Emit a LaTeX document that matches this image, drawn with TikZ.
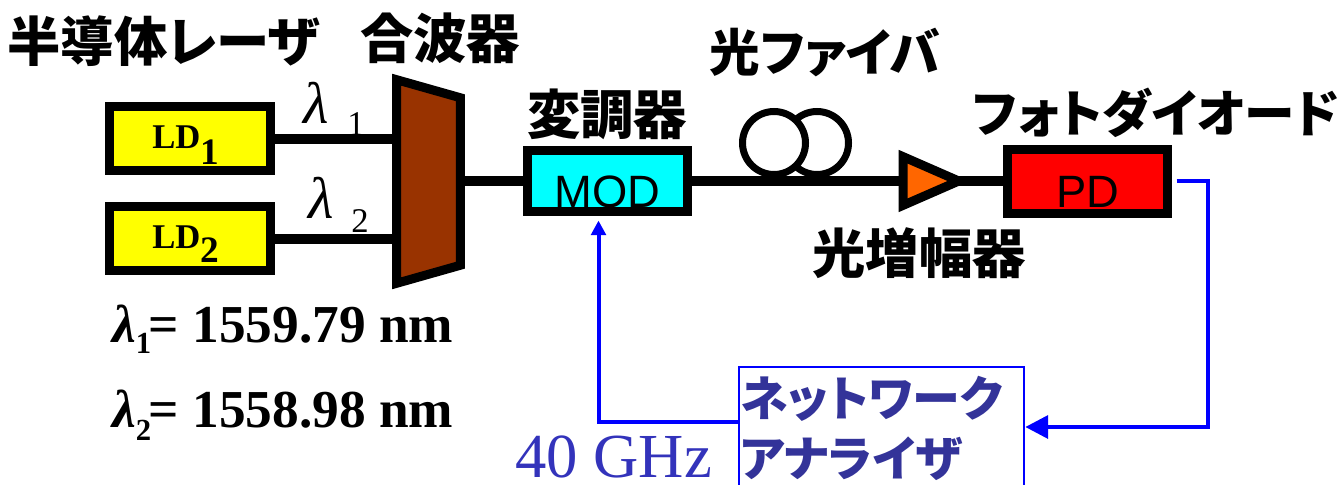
\documentclass[tikz,border=0pt]{standalone}
\usepackage{fontspec}
\setmainfont{Liberation Serif}
\newfontfamily\jp{Noto Sans CJK JP}[RawFeature=+palt]
\newfontfamily\arial{Liberation Sans}
\usetikzlibrary{arrows.meta,calc}
\definecolor{brn}{HTML}{993300}
\definecolor{amporange}{HTML}{FF6600}
\definecolor{natext}{HTML}{333399}
\definecolor{ghzcol}{HTML}{3333BB}
\definecolor{sigblue}{HTML}{0000FF}
\definecolor{modcyan}{HTML}{00FFFF}
\definecolor{ldyellow}{HTML}{FFFF00}
\definecolor{pdred}{HTML}{FF0000}
\begin{document}
\begin{tikzpicture}[x=0.75pt,y=-0.75pt,
  box/.style={draw=black,line width=6.75pt,inner sep=0pt,minimum width=120.75pt,minimum height=48pt},
  fibre/.style={line width=7.5pt},
  coilc/.style={circle,draw=black,line width=5.25pt,inner sep=0pt,minimum size=47.25pt},
  nabox/.style={draw=sigblue,line width=2pt,inner sep=0pt,minimum width=213.75pt,minimum height=130pt},
  sig/.style={draw=sigblue,line width=3pt},
  jlabel/.style={inner sep=0pt,font=\jp\bfseries\fontsize{40}{40}\selectfont},
  jklabel/.style={inner sep=0pt,font=\jp\bfseries\fontsize{38}{38}\selectfont},
  natxt/.style={inner sep=0pt,text=natext,font=\jp\bfseries\fontsize{36}{36}\selectfont},
  boxtxt/.style={inner sep=0pt,anchor=base,font=\arial\fontsize{34}{34}\selectfont},
  ldtxt/.style={inner sep=0pt,anchor=base west,font=\bfseries\fontsize{26}{26}\selectfont},
  lamtxt/.style={inner sep=0pt,anchor=base west,font=\itshape\fontsize{44}{44}\selectfont},
  subtxt/.style={inner sep=0pt,anchor=base west,font=\fontsize{26}{26}\selectfont},
  eqtxt/.style={inner sep=0pt,anchor=base west,font=\bfseries\fontsize{40}{40}\selectfont},
  ghztxt/.style={inner sep=0pt,anchor=base west,text=ghzcol,font=\fontsize{47}{47}\selectfont}
]
\clip (0,0) rectangle (1339,485);

% invisible placeholders
\node[inner sep=0pt,minimum width=47.25pt,minimum height=152.25pt] (comb) at (428.5,181.5) {};
\node[inner sep=0pt,minimum width=41.25pt,minimum height=36pt] (amp) at (931,181) {};

% coil
\node[coilc] (c2) at (817,143) {};
\node[coilc,fill=white] (c1) at (774,143) {};

% boxes
\node[box,fill=ldyellow] (ld1) at (190,138.5) {};
\node[box,fill=ldyellow] (ld2) at (190,238.5) {};
\node[box,fill=modcyan,minimum width=120pt,minimum height=45.75pt] (mod) at (607.5,181) {};
\node[box,fill=pdred,minimum width=120pt,minimum height=48pt] (pd) at (1087.5,181) {};
\node[nabox] (na) at (881.5,453.5) {};

% fibres
\draw[fibre] (ld1.east) -- (ld1.east -| comb.west);
\draw[fibre] (ld2.east) -- (ld2.east -| comb.west);
\draw[fibre] (comb.east |- mod.west) -- (mod.west);
\draw[fibre] (mod.east) -- (pd.west);

% combiner
\draw[line width=6.75pt,fill=brn,line join=miter]
  (comb.north west) -- ([yshift=-13.5pt]comb.north east) -- ([yshift=13.5pt]comb.south east) -- (comb.south west) -- cycle;
% amplifier
\draw[line width=6.75pt,fill=amporange,line join=miter]
  (amp.north west) -- (amp.east) -- (amp.south west) -- cycle;

% signal lines
\coordinate (fb) at (1208,427);
\coordinate (mc) at (598.5,422);
\coordinate (pdout) at ([xshift=3.4pt]pd.east);
\coordinate (modin) at ([yshift=-3.4pt]mod.south);
\draw[sig,-{Triangle[length=17pt,width=17pt]}] (pdout) -| (fb) -- (fb -| na.east);
\draw[sig,-{Triangle[length=11pt,width=11pt]}] (na.west |- mc) -- (mc) -- (mc |- modin);

% box texts
\node[boxtxt] (modt) at (607.5,207) {MOD};
\node[boxtxt] (pdt) at (1087.5,207) {PD};
\node[ldtxt] (ld1t) at (152,148) {LD\raisebox{-12.5pt}{\fontsize{28}{28}\selectfont 1}};
\node[ldtxt] (ld2t) at (152,248) {LD\raisebox{-10.5pt}{\fontsize{28}{28}\selectfont 2}};

% wavelength labels
\node[lamtxt] (la1) at (303,123) {λ};
\node[subtxt] (la1s) at (347,135) {1};
\node[lamtxt] (la2) at (308,218) {λ};
\node[subtxt] (la2s) at (351,232) {2};

\node[eqtxt] (eq1) at (112,342) {{\itshape λ}\raisebox{-8.25pt}{\fontsize{23}{23}\selectfont 1}\kern-2pt= 1559.79 nm};
\node[eqtxt] (eq2) at (112,427) {{\itshape λ}\raisebox{-9.75pt}{\fontsize{23}{23}\selectfont 2}\kern-2pt= 1558.98 nm};

% Japanese labels
\node[jlabel] (t1) at (164,41) {半導体レーザ};
\node[jlabel] (t2) at (440,38) {合波器};
\node[jlabel] (t3) at (607,114) {変調器};
\node[jklabel] (t4) at (825,53) {光ファイバ};
\node[jklabel] (t5) at (1156,113) {フォトダイオード};
\node[jlabel] (t6) at (919,253) {光増幅器};
\node[natxt,anchor=west] (t7) at (740,399) {ネットワーク};
\node[natxt,anchor=west] (t8) at (740,459) {アナライザ};

\node[ghztxt] (ghz) at (515,477) {40 GHz};
\end{tikzpicture}
\end{document}
